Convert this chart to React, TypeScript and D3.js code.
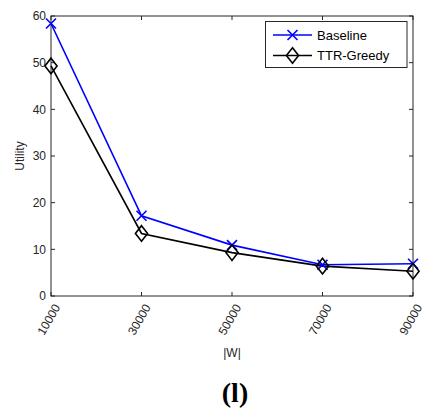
import React from "react";
import * as d3 from "d3";

const categories = [10000, 30000, 50000, 70000, 90000];
const baseline = [58.4, 17.2, 10.9, 6.7, 6.9];
const ttrGreedy = [49.3, 13.4, 9.3, 6.4, 5.3];
const yTicks = [0, 10, 20, 30, 40, 50, 60];
const seriesNames = ["Baseline", "TTR-Greedy"];

export default function App() {
  const W = 441, H = 411;
  const L = 51, R = 413, T = 16, B = 296;
  const x = d3.scaleLinear().domain([10000, 90000]).range([L, R]);
  const y = d3.scaleLinear().domain([0, 60]).range([B, T]);
  const line = d3.line<number>().x((_, i) => x(categories[i])).y((d) => y(d));
  const axisColor = "#262626";
  const font = "'Liberation Sans', Arial, sans-serif";
  const tickLen = 4;

  const xMarker = (cx: number, cy: number, k: number) => {
    const s = 5;
    return (
      <path key={k} d={`M${cx - s},${cy - s}L${cx + s},${cy + s}M${cx - s},${cy + s}L${cx + s},${cy - s}`} stroke="#0000ff" strokeWidth={1.6} fill="none" />
    );
  };
  const diamond = (cx: number, cy: number, k: number) => {
    const s = 7.8;
    return (
      <path key={k} d={`M${cx},${cy - s}L${cx + s * 0.78},${cy}L${cx},${cy + s}L${cx - s * 0.78},${cy}Z`} stroke="#000" strokeWidth={1.6} fill="none" />
    );
  };

  return (
    <svg width={W} height={H} style={{ position: "absolute", left: 0, top: 0, background: "#fff" }}>
      <rect x={0} y={0} width={W} height={H} fill="#fff" />
      <rect x={L} y={T} width={R - L} height={B - T} fill="none" stroke={axisColor} strokeWidth={1} />
      {yTicks.map((t) => (
        <g key={"y" + t}>
          <line x1={L} x2={L + tickLen} y1={y(t)} y2={y(t)} stroke={axisColor} />
          <line x1={R} x2={R - tickLen} y1={y(t)} y2={y(t)} stroke={axisColor} />
          <text x={L - 5} y={y(t)} dy="0.35em" textAnchor="end" fontFamily={font} fontSize={12} fill={axisColor}>{t}</text>
        </g>
      ))}
      {categories.map((c) => (
        <g key={"x" + c}>
          <line x1={x(c)} x2={x(c)} y1={B} y2={B - tickLen} stroke={axisColor} />
          <line x1={x(c)} x2={x(c)} y1={T} y2={T + tickLen} stroke={axisColor} />
          <text transform={`translate(${x(c) + 6},${B + 9}) rotate(-60)`} textAnchor="end" dy="0.35em" fontFamily={font} fontSize={12} fill={axisColor}>{c}</text>
        </g>
      ))}
      <path d={line(baseline) || ""} fill="none" stroke="#0000ff" strokeWidth={1.6} />
      <path d={line(ttrGreedy) || ""} fill="none" stroke="#000" strokeWidth={1.6} />
      {baseline.map((v, i) => xMarker(x(categories[i]), y(v), i))}
      {ttrGreedy.map((v, i) => diamond(x(categories[i]), y(v), i))}
      <text transform={`translate(20,${(T + B) / 2}) rotate(-90)`} textAnchor="middle" dy="0.35em" fontFamily={font} fontSize={12} fill={axisColor}>Utility</text>
      <text x={(L + R) / 2} y={353} textAnchor="middle" dy="0.35em" fontFamily={font} fontSize={12} fill={axisColor}>|W|</text>
      <rect x={265.5} y={21.5} width={141.5} height={46} fill="#fff" stroke={axisColor} strokeWidth={1} />
      <line x1={273} x2={312} y1={35} y2={35} stroke="#0000ff" strokeWidth={1.6} />
      {xMarker(292.5, 35, 100)}
      <text x={317} y={35} dy="0.35em" fontFamily={font} fontSize={13} fill="#000">{seriesNames[0]}</text>
      <line x1={273} x2={312} y1={55.5} y2={55.5} stroke="#000" strokeWidth={1.6} />
      {diamond(292.5, 55.5, 101)}
      <text x={317} y={55.5} dy="0.35em" fontFamily={font} fontSize={13} fill="#000">{seriesNames[1]}</text>
      <text x={235} y={402} textAnchor="middle" fontFamily="'Liberation Serif', 'Times New Roman', serif" fontWeight="bold" fontSize={28} fill="#000">(l)</text>
    </svg>
  );
}
